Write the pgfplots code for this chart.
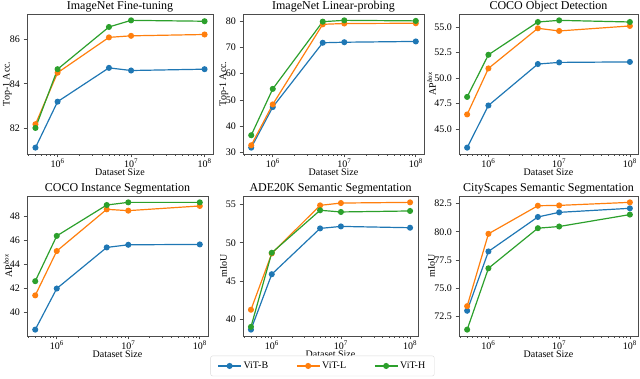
\documentclass[border=0pt]{standalone}
\usepackage{pgfplots}
\pgfplotsset{compat=1.18}
\usepackage{fontspec}
\setmainfont{Liberation Serif}
\definecolor{cB}{HTML}{1F77B4}
\definecolor{cL}{HTML}{FF7F0E}
\definecolor{cH}{HTML}{2CA02C}
\pgfplotsset{
  every axis title shift=0pt,
  myax/.style={
    scale only axis, anchor=south west,
    xmin=3.837e5, xmax=1.303e8, enlarge y limits=0.05,
    axis line style={black!70, line width=0.7pt},
    tick align=outside, xtick pos=bottom, ytick pos=left,
    major tick length=3.5pt, minor tick length=2pt,
    tick style={black!70, line width=0.6pt},
    xtick={1e6,1e7,1e8},
    xticklabels={10\textsuperscript{6},10\textsuperscript{7},10\textsuperscript{8}},
    minor xtick={4e5,5e5,6e5,7e5,8e5,9e5,2e6,3e6,4e6,5e6,6e6,7e6,8e6,9e6,2e7,3e7,4e7,5e7,6e7,7e7,8e7,9e7},
    /pgf/number format/assume math mode=true,
    ticklabel style={font=\fontsize{10}{12}\selectfont},
    xticklabel style={yshift=2pt},
    label style={font=\fontsize{10}{12}\selectfont},
    title style={font=\fontsize{12}{14}\selectfont, at={(0.5,1)}, anchor=base, yshift=4pt, inner sep=0pt},
    xlabel={Dataset Size},
    xlabel style={at={(0.5,0)}, anchor=base, yshift=-21.5pt, inner sep=0pt},
    every axis plot/.append style={line width=1.2pt, mark=*, mark size=2.4pt, mark options={solid}},
  },
  yl/.style={ylabel style={at={(axis description cs:-#1,0.5)}, anchor=center}},
}
\begin{document}
\begin{tikzpicture}
\useasboundingbox (0pt,0pt) rectangle (640pt,379pt);
% 1
\begin{semilogxaxis}[myax, at={(27pt,225pt)}, width=186pt, height=140pt, yl=0.105,
  title={ImageNet Fine-tuning}, ylabel={Top-1 Acc.}, ytick={82,84,86}]
\addplot[cB] coordinates {(5e5,81.11) (1e6,83.19) (5e6,84.72) (1e7,84.60) (1e8,84.66)};
\addplot[cL] coordinates {(5e5,82.17) (1e6,84.50) (5e6,86.10) (1e7,86.17) (1e8,86.23)};
\addplot[cH] coordinates {(5e5,82.00) (1e6,84.66) (5e6,86.57) (1e7,86.87) (1e8,86.83)};
\end{semilogxaxis}
% 2
\begin{semilogxaxis}[myax, at={(243pt,225pt)}, width=181pt, height=140pt, yl=0.105,
  title={ImageNet Linear-probing}, ylabel={Top-1 Acc.}, ytick={30,40,50,60,70,80}]
\addplot[cB] coordinates {(5e5,31.9) (1e6,47.3) (5e6,71.7) (1e7,71.9) (1e8,72.2)};
\addplot[cL] coordinates {(5e5,32.8) (1e6,48.3) (5e6,78.7) (1e7,79.0) (1e8,79.1)};
\addplot[cH] coordinates {(5e5,36.6) (1e6,54.2) (5e6,79.7) (1e7,80.2) (1e8,80.0)};
\end{semilogxaxis}
% 3
\begin{semilogxaxis}[myax, at={(459pt,225pt)}, width=179pt, height=140pt, yl=0.153,
  title={COCO Object Detection}, ylabel={AP\textsuperscript{\textit{box}}},
  ytick={42.5,45,47.5,50,52.5,55},
  yticklabel style={/pgf/number format/.cd, fixed, fixed zerofill, precision=1}]
\addplot[cB] coordinates {(5e5,43.18) (1e6,47.32) (5e6,51.39) (1e7,51.55) (1e8,51.60)};
\addplot[cL] coordinates {(5e5,46.44) (1e6,50.96) (5e6,54.90) (1e7,54.64) (1e8,55.13)};
\addplot[cH] coordinates {(5e5,48.16) (1e6,52.30) (5e6,55.52) (1e7,55.68) (1e8,55.52)};
\end{semilogxaxis}
% 4
\begin{semilogxaxis}[myax, at={(27pt,43pt)}, width=181pt, height=140pt, yl=0.105,
  title={COCO Instance Segmentation}, ylabel={AP\textsuperscript{\textit{box}}}, ytick={40,42,44,46,48}]
\addplot[cB] coordinates {(5e5,38.54) (1e6,41.96) (5e6,45.38) (1e7,45.60) (1e8,45.63)};
\addplot[cL] coordinates {(5e5,41.39) (1e6,45.08) (5e6,48.55) (1e7,48.44) (1e8,48.83)};
\addplot[cH] coordinates {(5e5,42.57) (1e6,46.34) (5e6,48.91) (1e7,49.13) (1e8,49.13)};
\end{semilogxaxis}
% 5
\begin{semilogxaxis}[myax, at={(243pt,43pt)}, width=175pt, height=140pt, yl=0.111,
  title={ADE20K Semantic Segmentation}, ylabel={mIoU}, ytick={40,45,50,55},
  legend columns=3,
  legend style={at={(0.454,-0.214)}, anchor=center, draw=black!15, rounded corners=2pt,
    font=\fontsize{10}{12}\selectfont, inner xsep=7pt, inner ysep=4pt,
    /tikz/every even column/.append style={column sep=26pt}},
  legend image code/.code={\draw[mark repeat=2,mark phase=2] plot coordinates {(0cm,0cm) (0.4cm,0cm) (0.8cm,0cm)};}]
\addplot[cB] coordinates {(5e5,38.7) (1e6,45.91) (5e6,51.87) (1e7,52.13) (1e8,51.96)};
\addplot[cL] coordinates {(5e5,41.29) (1e6,48.61) (5e6,54.87) (1e7,55.17) (1e8,55.26)};
\addplot[cH] coordinates {(5e5,39.06) (1e6,48.70) (5e6,54.23) (1e7,54.01) (1e8,54.14)};
\legend{ViT-B, ViT-L, ViT-H}
\end{semilogxaxis}
% 6
\begin{semilogxaxis}[myax, at={(459pt,43pt)}, width=179pt, height=140pt, yl=0.153,
  title={CityScapes Semantic Segmentation}, ylabel={mIoU},
  ytick={72.5,75,77.5,80,82.5},
  yticklabel style={/pgf/number format/.cd, fixed, fixed zerofill, precision=1}]
\addplot[cB] coordinates {(5e5,72.97) (1e6,78.25) (5e6,81.32) (1e7,81.73) (1e8,82.09)};
\addplot[cL] coordinates {(5e5,73.38) (1e6,79.82) (5e6,82.32) (1e7,82.35) (1e8,82.62)};
\addplot[cH] coordinates {(5e5,71.29) (1e6,76.75) (5e6,80.32) (1e7,80.47) (1e8,81.53)};
\end{semilogxaxis}
\end{tikzpicture}
\end{document}
